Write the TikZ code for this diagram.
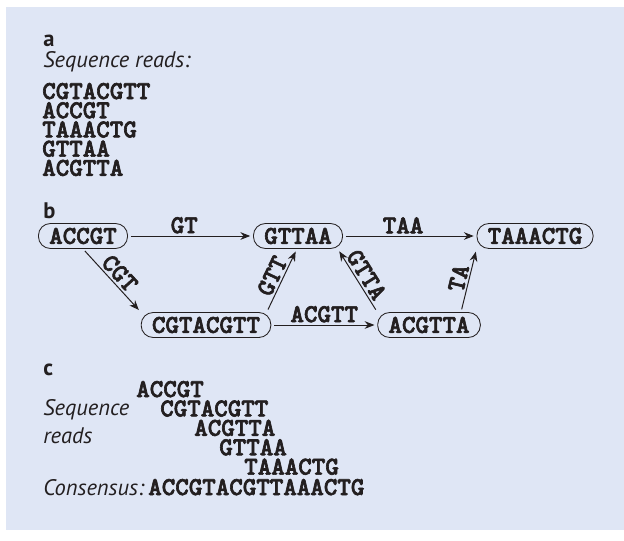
\documentclass[tikz,border=0pt]{standalone}
\usepackage{fontspec}
\setmainfont{PT Sans}
\newfontfamily\seqfam{lmmonolt10-bold.otf}[FakeBold=2.5]
\usepackage{tikz}
\usetikzlibrary{arrows.meta}

\definecolor{panelblue}{RGB}{223,230,245}
\definecolor{inkgray}{RGB}{35,31,32}

\newcommand{\seqfont}{\fontsize{18.3pt}{13.7pt}\selectfont\seqfam}
\newcommand{\capfont}{\fontsize{16pt}{18pt}\selectfont}

\tikzset{
	txt/.style={inner sep=0pt,anchor=base west,text=inkgray},
	seq/.style={txt,font=\seqfont},
	captxt/.style={txt,font=\capfont\itshape},
	part/.style={txt,font=\capfont\bfseries},
	kmer/.style={draw=inkgray,line width=0.6pt,rounded corners=0.3cm,
		minimum height=0.625cm,inner xsep=0.27cm,inner ysep=0pt,
		font=\seqfont,text=inkgray},
	link/.style={draw=inkgray,line width=0.7pt,shorten <=2pt,shorten >=2pt,
		-{Stealth[length=7pt,width=5.5pt]}},
	olap/.style={font=\seqfont,text=inkgray,inner sep=1.5pt}
}

\begin{document}
\begin{tikzpicture}
		\useasboundingbox (0,0) rectangle (15.6,13.5);
		\fill[panelblue] (0.15,0.25) rectangle (15.6,13.325);
%		\draw[help lines] (0,0) grid (15.6,13.5);

		% a
		\path (1.075,12.325) node(parta) [part] {a};
		\path (1.075,11.8) node(readtitle) [captxt] {Sequence reads:};
		\path (1.05,11.025) node(read1) [seq] {CGTACGTT};
		\path (1.05,10.545) node(read2) [seq] {ACCGT};
		\path (1.05,10.065) node(read3) [seq] {TAAACTG};
		\path (1.05,9.585) node(read4) [seq] {GTTAA};
		\path (1.05,9.105) node(read5) [seq] {ACGTTA};

		% b
		\path (1.075,8.05) node(partb) [part] {b};
		\path (2.075,7.6) node(accgt) [kmer] {ACCGT};
		\path (7.45,7.6) node(gttaa) [kmer] {GTTAA};
		\path (13.375,7.6) node(taaactg) [kmer] {TAAACTG};
		\path (5.15,5.375) node(cgtacgtt) [kmer] {CGTACGTT};
		\path (10.725,5.375) node(acgtta) [kmer] {ACGTTA};

		\draw[link] (accgt) -- node[olap,above,pos=0.45] {GT} (gttaa);
		\draw[link] (gttaa) -- node[olap,above,pos=0.45] {TAA} (taaactg);
		\draw[link] (accgt.south) -- node[olap,above,sloped] {CGT} (cgtacgtt.north west);
		\draw[link] (cgtacgtt.12) -- node[olap,above,sloped] {GTT} (gttaa.265);
		\draw[link] (cgtacgtt) -- node[olap,above] {ACGTT} (acgtta);
		\draw[link] (acgtta.north west) -- node[olap,above,sloped] {GTTA} (gttaa.-18);
		\draw[link] (acgtta.22) -- node[olap,above,sloped] {TA} (taaactg.south west);

		% c
		\path (1.075,4.125) node(partc) [part] {c};
		\path (3.4,3.575) node(tile1) [seq] {ACCGT};
		\path (4.0,3.09) node(tile2) [seq] {CGTACGTT};
		\path (4.85,2.605) node(tile3) [seq] {ACGTTA};
		\path (5.475,2.12) node(tile4) [seq] {GTTAA};
		\path (6.1,1.635) node(tile5) [seq] {TAAACTG};
		\path (1.075,3.125) node(tilelabel1) [captxt] {Sequence};
		\path (1.075,2.425) node(tilelabel2) [captxt] {reads};
		\path (1.075,1.125) node(constitle) [captxt] {Consensus:};
		\path (3.7,1.125) node(consensus) [seq] {ACCGTACGTTAAACTG};
\end{tikzpicture}
\end{document}
